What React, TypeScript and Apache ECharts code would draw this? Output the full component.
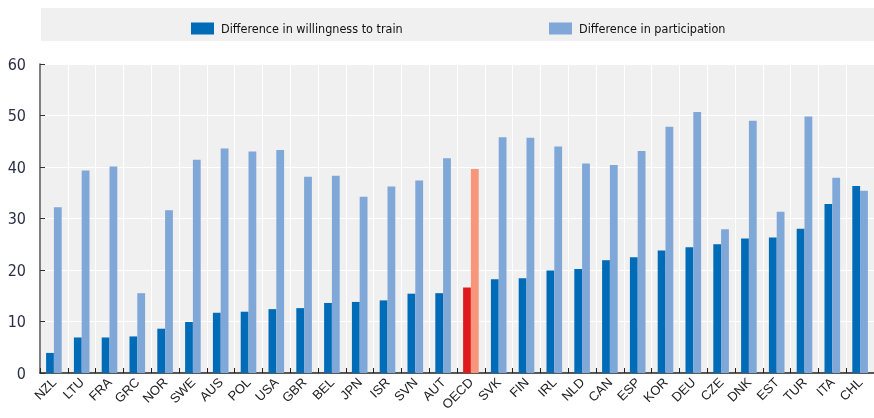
import React, { useEffect, useRef } from "react";
import * as echarts from "echarts";

const categories = ["NZL", "LTU", "FRA", "GRC", "NOR", "SWE", "AUS", "POL", "USA", "GBR", "BEL", "JPN", "ISR", "SVN", "AUT", "OECD", "SVK", "FIN", "IRL", "NLD", "CAN", "ESP", "KOR", "DEU", "CZE", "DNK", "EST", "TUR", "ITA", "CHL"];
const willingness = [3.9, 6.9, 6.9, 7.1, 8.6, 9.9, 11.7, 11.9, 12.4, 12.6, 13.6, 13.8, 14.1, 15.4, 15.5, 16.6, 18.2, 18.4, 19.9, 20.2, 21.9, 22.5, 23.8, 24.4, 25.0, 26.1, 26.3, 28.0, 32.8, 36.3];
const participation = [32.2, 39.3, 40.1, 15.5, 31.6, 41.4, 43.6, 43.0, 43.3, 38.1, 38.3, 34.2, 36.2, 37.4, 41.7, 39.6, 45.8, 45.7, 44.0, 40.7, 40.4, 43.1, 47.8, 50.7, 27.9, 49.0, 31.3, 49.8, 37.9, 35.4];
const yTicks = [0, 60, 10];
const seriesNames = ["Difference in willingness to train", "Difference in participation"];

const DARK = "#006BB6";
const LIGHT = "#7FA7D8";
const OECD_DARK = "#E0191F";
const OECD_LIGHT = "#F7967A";
const NARROW = "'Liberation Sans Narrow', 'DejaVu Sans Condensed', 'Arial Narrow', sans-serif";

export default function App() {
  const ref = useRef<HTMLDivElement>(null);
  useEffect(() => {
    if (!ref.current) return;
    const chart = echarts.init(ref.current, null, { renderer: "svg" });
    const mk = (vals: number[], hi: string) =>
      vals.map((v, i) => (categories[i] === "OECD" ? { value: v, itemStyle: { color: hi } } : v));
    const legendBase = {
      top: 17,
      itemWidth: 23,
      itemHeight: 12,
      icon: "rect",
      textStyle: { fontFamily: NARROW, fontSize: 12.5, color: "#111", padding: [0, 0, 0, 2] },
    };
    chart.setOption({
      animation: false,
      graphic: [
        { type: "rect", shape: { x: 41, y: 8, width: 833, height: 33 }, style: { fill: "#f0f0f0" }, z: -10 },
      ],
      legend: [
        { ...legendBase, data: [seriesNames[0]], left: 186 },
        { ...legendBase, data: [seriesNames[1]], left: 544 },
      ],
      grid: {
        left: 40,
        top: 64,
        width: 840,
        bottom: 45,
        show: true,
        backgroundColor: "#f0f0f0",
        borderWidth: 0,
      },
      xAxis: {
        type: "category",
        data: categories,
        axisLine: { lineStyle: { color: "#222", width: 1.5 } },
        axisTick: { show: true, inside: true, length: 5, lineStyle: { color: "#222" } },
        axisLabel: {
          rotate: 45,
          interval: 0,
          margin: 7,
          fontFamily: "'Liberation Sans', Arial, sans-serif",
          fontSize: 13,
          color: "#222",
        },
        splitLine: { show: true, lineStyle: { color: "#ffffff", width: 1 } },
      },
      yAxis: {
        type: "value",
        min: yTicks[0],
        max: yTicks[1],
        interval: yTicks[2],
        axisLine: { show: true, lineStyle: { color: "#555", width: 1.5 } },
        axisTick: { show: true, inside: true, length: 5, lineStyle: { color: "#333" } },
        axisLabel: { margin: 14, fontFamily: NARROW, fontSize: 16, color: "#2a2f45" },
        splitLine: { show: true, lineStyle: { color: "#ffffff", width: 1 } },
      },
      series: [
        {
          name: seriesNames[0],
          type: "bar",
          data: mk(willingness, OECD_DARK),
          itemStyle: { color: DARK },
          barWidth: 7.8,
          barGap: "0%",
        },
        {
          name: seriesNames[1],
          type: "bar",
          data: mk(participation, OECD_LIGHT),
          itemStyle: { color: LIGHT },
          barWidth: 7.8,
          barGap: "0%",
        },
      ],
    });
    return () => chart.dispose();
  }, []);
  return <div ref={ref} style={{ position: "fixed", left: 0, top: 0, width: 874, height: 418 }} />;
}
